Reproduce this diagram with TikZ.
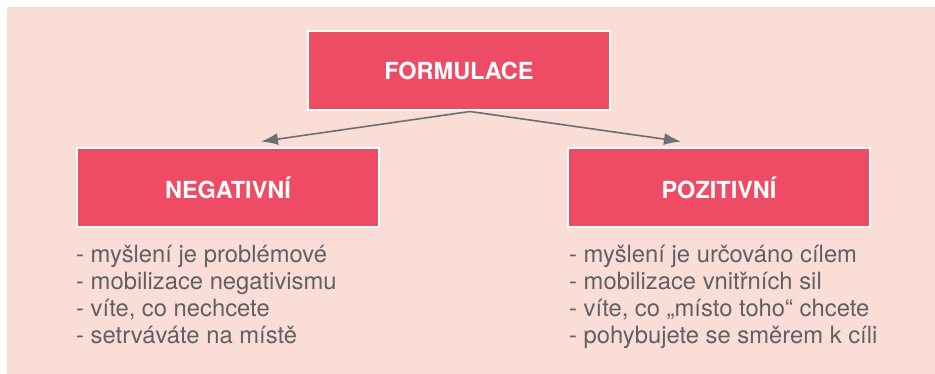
\documentclass[tikz,border=0pt]{standalone}
\usepackage{fontspec}
\setmainfont{TeX Gyre Heros}
\usepackage{tikz}
\usetikzlibrary{arrows.meta,positioning}

\definecolor{bgpink}{HTML}{FBDDD8}
\definecolor{boxred}{HTML}{EE4C64}
\definecolor{txtgray}{HTML}{5F6062}
\definecolor{arrgray}{HTML}{6D6E71}

\tikzset{
	headbox/.style={rectangle, fill=boxred, draw=white, line width=2pt,
		minimum width=302pt, minimum height=79pt, inner sep=0pt,
		text=white, font=\fontsize{23.5}{27}\selectfont\bfseries},
	itemlist/.style={anchor=north west, align=left, inner sep=0pt,
		text=txtgray, font=\fontsize{23.8}{27.3}\selectfont},
	splitarrow/.style={draw=arrgray, line width=1.6pt, -{Latex[length=17pt,width=12pt]}}
}

\begin{document}
\begin{tikzpicture}[x=1pt,y=-1pt]
	\useasboundingbox (0,0) rectangle (935,374);
	\fill[bgpink] (7,7) rectangle (935,374);

	\node[headbox] (formulace) at (459,71) {FORMULACE};
	\node[headbox] (negativni) at (228,188) {NEGATIVNÍ};
	\node[headbox] (pozitivni) at (719,188) {POZITIVNÍ};

	\coordinate (split) at ([xshift=11pt]formulace.south);
	\draw[splitarrow] (split) -- ([shift={(33pt,6pt)}]negativni.north);
	\draw[splitarrow] (split) -- ([shift={(-38pt,6pt)}]pozitivni.north);

	\node[itemlist] (neglist) at ([yshift=-16pt]negativni.south west) {%
		- myšlení je problémové\\
		- mobilizace negativismu\\
		- víte, co nechcete\\
		- setrváváte na místě};
	\node[itemlist] (pozlist) at ([shift={(2pt,-16pt)}]pozitivni.south west) {%
		- myšlení je určováno cílem\\
		- mobilizace vnitřních sil\\
		- víte, co „místo toho“ chcete\\
		- pohybujete se směrem k cíli};
\end{tikzpicture}
\end{document}
